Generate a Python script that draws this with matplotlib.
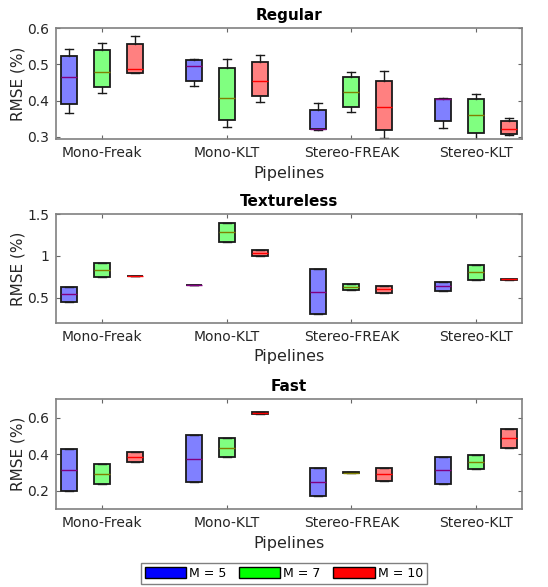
import numpy as np
import matplotlib
matplotlib.use('Agg')
import matplotlib.pyplot as plt
from matplotlib.patches import Patch

pipelines = ['Mono-Freak', 'Mono-KLT', 'Stereo-FREAK', 'Stereo-KLT']
m_labels = ['M = 5', 'M = 7', 'M = 10']

# five number summaries per pipeline: [whisker low, q1, median, q3, whisker high]
regular_m5 = [[0.365, 0.390, 0.464, 0.523, 0.544],
              [0.440, 0.454, 0.495, 0.511, 0.514],
              [0.319, 0.320, 0.322, 0.375, 0.394],
              [0.325, 0.343, 0.403, 0.405, 0.407]]
regular_m7 = [[0.421, 0.437, 0.479, 0.539, 0.559],
              [0.326, 0.346, 0.408, 0.489, 0.515],
              [0.368, 0.382, 0.424, 0.466, 0.479],
              [0.291, 0.309, 0.361, 0.403, 0.418]]
regular_m10 = [[0.475, 0.477, 0.487, 0.556, 0.579],
               [0.397, 0.412, 0.454, 0.507, 0.526],
               [0.296, 0.318, 0.382, 0.455, 0.481],
               [0.305, 0.308, 0.322, 0.343, 0.351]]

textureless_m5 = [[0.452, 0.452, 0.540, 0.624, 0.624],
                  [0.647, 0.647, 0.652, 0.657, 0.657],
                  [0.308, 0.308, 0.572, 0.840, 0.840],
                  [0.584, 0.584, 0.640, 0.684, 0.684]]
textureless_m7 = [[0.748, 0.748, 0.828, 0.912, 0.912],
                  [1.168, 1.168, 1.284, 1.400, 1.400],
                  [0.592, 0.592, 0.632, 0.668, 0.668],
                  [0.708, 0.708, 0.804, 0.896, 0.896]]
textureless_m10 = [[0.756, 0.756, 0.760, 0.764, 0.764],
                   [1.000, 1.000, 1.032, 1.068, 1.068],
                   [0.560, 0.560, 0.608, 0.644, 0.644],
                   [0.712, 0.712, 0.720, 0.728, 0.728]]

fast_m5 = [[0.198, 0.198, 0.312, 0.430, 0.430],
           [0.249, 0.249, 0.376, 0.504, 0.504],
           [0.173, 0.173, 0.249, 0.325, 0.325],
           [0.240, 0.240, 0.312, 0.385, 0.385]]
fast_m7 = [[0.238, 0.238, 0.294, 0.348, 0.348],
           [0.383, 0.383, 0.435, 0.490, 0.490],
           [0.297, 0.297, 0.300, 0.303, 0.303],
           [0.318, 0.318, 0.357, 0.397, 0.397]]
fast_m10 = [[0.359, 0.359, 0.385, 0.410, 0.410],
            [0.622, 0.622, 0.625, 0.628, 0.628],
            [0.254, 0.254, 0.294, 0.327, 0.327],
            [0.433, 0.433, 0.488, 0.537, 0.537]]

panels = [('Regular', [regular_m5, regular_m7, regular_m10], (0.2927, 0.6), [0.3, 0.4, 0.5, 0.6], ['0.3', '0.4', '0.5', '0.6']),
          ('Textureless', [textureless_m5, textureless_m7, textureless_m10], (0.2, 1.5), [0.5, 1.0, 1.5], ['0.5', '1', '1.5']),
          ('Fast', [fast_m5, fast_m7, fast_m10], (0.1, 0.7), [0.2, 0.4, 0.6], ['0.2', '0.4', '0.6'])]

fills = [(0.5, 0.5, 1.0), (0.5, 1.0, 0.5), (1.0, 0.5, 0.5)]
medians = [(0.5, 0.0, 0.5), (0.5, 0.5, 0.0), (1.0, 0.0, 0.0)]
legend_colors = ['#0000ff', '#00ff00', '#ff0000']
offsets = [-0.265, 0.0, 0.265]
txt = '0.15'

fig = plt.figure(figsize=(5.48, 5.87), dpi=100)
bottoms = [0.7627, 0.4503, 0.1324]
heights = [0.189, 0.1847, 0.1874]

for (title, series, ylim, yt, ytl), b, h in zip(panels, bottoms, heights):
    ax = fig.add_axes([0.102, b, 0.851, h])
    centers = np.arange(1, len(pipelines) + 1)
    for k, data in enumerate(series):
        stats = []
        for row in data:
            stats.append(dict(whislo=row[0], q1=row[1], med=row[2], q3=row[3],
                              whishi=row[4], fliers=[]))
        ax.bxp(stats, positions=centers + offsets[k], widths=0.128,
               patch_artist=True, showfliers=False,
               boxprops=dict(facecolor=fills[k], edgecolor='0.1', linewidth=1.3),
               medianprops=dict(color=medians[k], linewidth=1.0),
               whiskerprops=dict(color='0.1', linewidth=1.0),
               capprops=dict(color='0.1', linewidth=1.0),
               capwidths=0.064, manage_ticks=False)
    ax.set_xlim(0.63, 4.37)
    ax.set_ylim(*ylim)
    ax.set_xticks(centers)
    ax.set_xticklabels(pipelines, fontsize=10, color=txt)
    ax.set_yticks(yt)
    ax.set_yticklabels(ytl, fontsize=10, color=txt)
    ax.tick_params(direction='in', top=True, right=True, length=3, color='0.4', pad=5)
    for s in ax.spines.values():
        s.set_color('0.5')
        s.set_linewidth(1.2)
    ax.set_title(title, fontsize=11, fontweight='bold', pad=6)
    ax.set_xlabel('Pipelines', fontsize=11.5, color=txt, labelpad=4)
    ax.set_ylabel('RMSE (%)', fontsize=11, color=txt, labelpad=1)

handles = [Patch(facecolor=c, edgecolor='k', linewidth=1.0) for c in legend_colors]
fig.legend(handles, m_labels, loc='center', bbox_to_anchor=(0.518, 0.023), ncol=3,
           fontsize=9, handlelength=3.3, handleheight=0.95, handletextpad=0.25,
           columnspacing=1.0, borderpad=0.3, fancybox=False, edgecolor='0.5',
           framealpha=1)

fig.savefig('out.png', dpi=100)
